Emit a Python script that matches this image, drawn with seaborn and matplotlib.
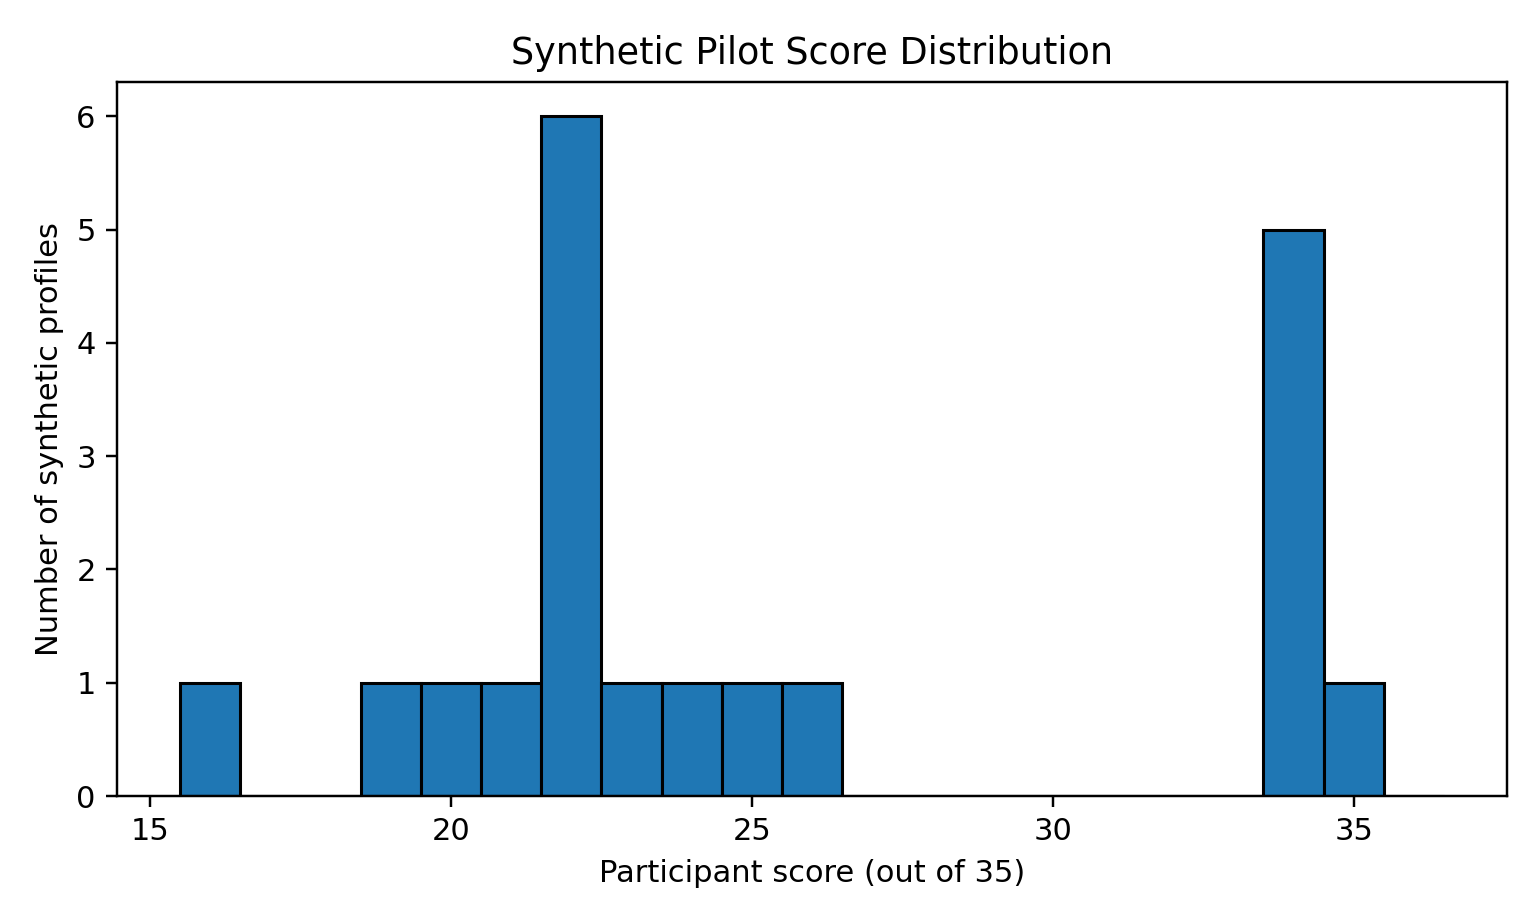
import matplotlib
matplotlib.use("Agg")
import matplotlib.pyplot as plt
import seaborn as sns
import numpy as np
import pandas as pd

scores = [16, 19, 20, 21, 22, 23, 24, 25, 26, 34, 35]
counts = [1, 1, 1, 1, 6, 1, 1, 1, 1, 5, 1]
bin_edges = list(np.arange(15.5, 37.0, 1.0))

df = pd.DataFrame({"score": scores, "count": counts})

fig, ax = plt.subplots(figsize=(7.0, 4.2), dpi=220)
sns.histplot(data=df, x="score", weights="count", bins=bin_edges, ax=ax,
             color="#1f77b4", edgecolor="black", linewidth=1.0, alpha=1.0)
ax.set_title("Synthetic Pilot Score Distribution")
ax.set_xlabel("Participant score (out of 35)")
ax.set_ylabel("Number of synthetic profiles")
ax.margins(x=0.05, y=0.05)
ax.set_xticks([15, 20, 25, 30, 35])
fig.subplots_adjust(left=0.076, right=0.9786, top=0.911, bottom=0.1385)
fig.savefig("out.png", dpi=220)
